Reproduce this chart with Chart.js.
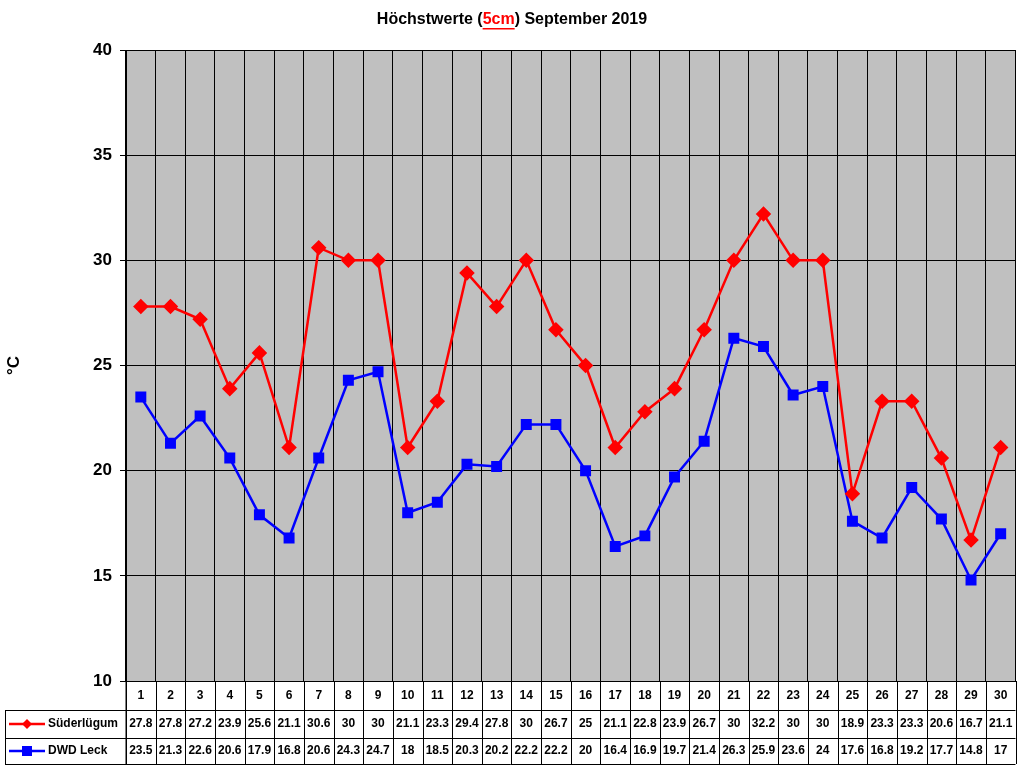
<!DOCTYPE html>
<html><head><meta charset="utf-8">
<script src="https://cdn.jsdelivr.net/npm/chart.js@4/dist/chart.umd.min.js"></script>
<style>html,body{margin:0;padding:0;background:#fff}#w{width:1024px;height:768px}</style>
</head><body><div id="w"><canvas id="c"></canvas></div>
<script>
const days = Array.from({length:30},(_,i)=>String(i+1));
const suederluegum = [27.8,27.8,27.2,23.9,25.6,21.1,30.6,30,30,21.1,23.3,29.4,27.8,30,26.7,25,21.1,22.8,23.9,26.7,30,32.2,30,30,18.9,23.3,23.3,20.6,16.7,21.1];
const dwdLeck = [23.5,21.3,22.6,20.6,17.9,16.8,20.6,24.3,24.7,18,18.5,20.3,20.2,22.2,22.2,20,16.4,16.9,19.7,21.4,26.3,25.9,23.6,24,17.6,16.8,19.2,17.7,14.8,17];
const seriesNames = ['Süderlügum','DWD Leck'];
const colors = ['#ff0000','#0000ff'];

const bgPlugin = {id:'bg',beforeDraw(ch){const a=ch.chartArea,c=ch.ctx;c.save();c.fillStyle='#c0c0c0';c.fillRect(a.left,a.top,a.right-a.left,a.bottom-a.top);c.restore();}};
const deco = {id:'deco',afterDraw(ch){
  const c=ch.ctx,a=ch.chartArea,x=ch.scales.x;c.save();
  // title
  c.font='bold 16px Arial, "Liberation Sans"';c.textBaseline='middle';
  const p1='Höchstwerte (',p2='5cm',p3=') September 2019';
  const w1=c.measureText(p1).width,w2=c.measureText(p2).width,w3=c.measureText(p3).width;
  let sx=512-(w1+w2+w3)/2;const ty=20;
  c.fillStyle='#000';c.textAlign='left';c.fillText(p1,sx,ty);
  c.fillStyle='#ff0000';c.fillText(p2,sx+w1,ty);
  c.fillRect(sx+w1,ty+8,w2,1.5);
  c.fillStyle='#000';c.fillText(p3,sx+w1+w2,ty);
  // table
  const rows=[a.bottom,710,738,764];const L=5;
  const cw=(a.right-a.left)/days.length;
  c.strokeStyle='#000';c.lineWidth=1;
  c.beginPath();
  c.moveTo(a.left,rows[0]);c.lineTo(a.left,rows[3]);
  for(let r=1;r<4;r++){c.moveTo(L,rows[r]+.5);c.lineTo(a.right,rows[r]+.5);}
  c.moveTo(L+.5,rows[1]);c.lineTo(L+.5,rows[3]);
  for(let i=0;i<=days.length;i++){const xx=Math.round(a.left+i*cw)+.5;c.moveTo(xx,rows[0]);c.lineTo(xx,rows[3]);}
  c.stroke();
  c.font='bold 12px Arial, "Liberation Sans"';c.textAlign='center';c.fillStyle='#000';
  const data=[suederluegum,dwdLeck];
  for(let i=0;i<days.length;i++){
    const cx=x.getPixelForValue(i);
    c.fillText(days[i],cx,(rows[0]+rows[1])/2);
    c.fillText(String(data[0][i]),cx,(rows[1]+rows[2])/2);
    c.fillText(String(data[1][i]),cx,(rows[2]+rows[3])/2);
  }
  for(let s=0;s<2;s++){
    const yy=(rows[s+1]+rows[s+2])/2;
    c.strokeStyle=colors[s];c.lineWidth=2.5;c.beginPath();c.moveTo(9,yy);c.lineTo(45,yy);c.stroke();
    c.fillStyle=colors[s];
    if(s===0){c.beginPath();c.moveTo(27,yy-5);c.lineTo(32,yy);c.lineTo(27,yy+5);c.lineTo(22,yy);c.closePath();c.fill();}
    else c.fillRect(22,yy-5,10,10);
    c.fillStyle='#000';c.textAlign='left';c.fillText(seriesNames[s],48,yy);c.textAlign='center';
  }
  c.restore();
}};
new Chart(document.getElementById('c'),{
  type:'line',
  data:{labels:days,datasets:[
    {label:seriesNames[0],data:suederluegum,borderColor:colors[0],backgroundColor:colors[0],borderWidth:2.5,pointStyle:'rectRot',pointRadius:6,pointHoverRadius:6,tension:0},
    {label:seriesNames[1],data:dwdLeck,borderColor:colors[1],backgroundColor:colors[1],borderWidth:2.5,pointStyle:'rect',pointRadius:6,pointHoverRadius:6,tension:0}
  ]},
  options:{responsive:true,maintainAspectRatio:false,animation:false,
    layout:{padding:{top:50,right:8,bottom:0,left:0}},
    plugins:{legend:{display:false},tooltip:{enabled:false},title:{display:false}},
    scales:{
      x:{offset:true,grid:{offset:true,color:'#000',drawTicks:false},border:{color:'#000'},ticks:{display:false},
         afterFit(s){s.height=87;}},
      y:{min:10,max:40,ticks:{stepSize:5,color:'#000',font:{size:17,weight:'bold',family:'Arial'},padding:8},
         grid:{color:'#000',drawTicks:true,tickLength:6},border:{color:'#000'},
         title:{display:true,text:'°C',color:'#000',font:{size:17,weight:'bold',family:'Arial'}},
         afterFit(s){s.width=126;}}
    }
  },
  plugins:[bgPlugin,deco]
});
</script></body></html>
